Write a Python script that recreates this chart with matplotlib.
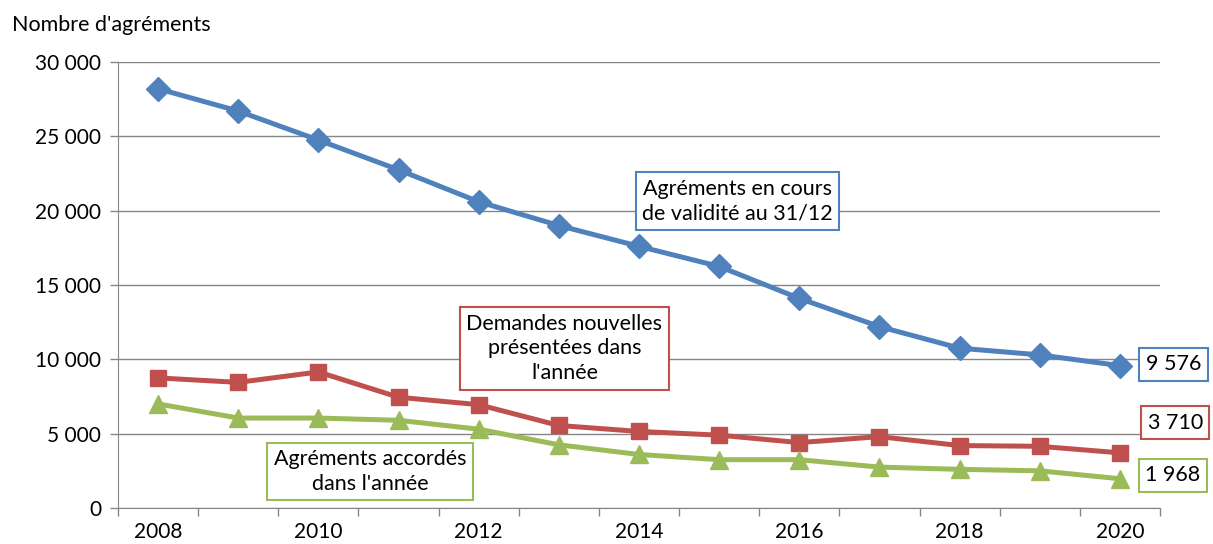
import matplotlib.pyplot as plt

plt.rcParams['font.family'] = ['Lato', 'DejaVu Sans']

# données
annees = [2008, 2009, 2010, 2011, 2012, 2013, 2014, 2015, 2016, 2017, 2018, 2019, 2020]
en_cours = [28200, 26700, 24750, 22750, 20600, 19000, 17600, 16250, 14100, 12200, 10750, 10300, 9576]
demandes = [8750, 8450, 9150, 7450, 6950, 5550, 5150, 4900, 4400, 4800, 4200, 4150, 3710]
accordes = [7000, 6050, 6050, 5900, 5300, 4250, 3600, 3250, 3250, 2750, 2600, 2500, 1968]
y_ticks = [0, 5000, 10000, 15000, 20000, 25000, 30000]

bleu = '#4F81BD'
rouge = '#C0504D'
vert = '#9BBB59'
gris = '#868686'


def fmt(v):
    return f"{v:,}".replace(",", " ")


fig = plt.figure(figsize=(12.13, 5.44), dpi=100)
ax = fig.add_axes([118 / 1213, 1 - 508 / 544, (1160 - 118) / 1213, (508 - 62) / 544])

x = list(range(len(annees)))
ax.plot(x, en_cours, color=bleu, lw=3.6, marker='D', ms=12, zorder=3)
ax.plot(x, demandes, color=rouge, lw=3.6, marker='s', ms=12, zorder=3)
ax.plot(x, accordes, color=vert, lw=3.6, marker='^', ms=13, zorder=3)

ax.set_xlim(-0.5, len(annees) - 0.5)
ax.set_ylim(0, 30000)
ax.set_yticks(y_ticks)
ax.set_yticklabels([fmt(v) for v in y_ticks], fontsize=15)
ax.yaxis.grid(True, color=gris, lw=1)
ax.set_axisbelow(True)

# axe des catégories : traits entre les années, une étiquette sur deux
ax.set_xticks([i - 0.5 for i in range(len(annees) + 1)])
ax.set_xticklabels([])
ax.set_xticks(x, minor=True)
ax.set_xticklabels([str(a) if a % 2 == 0 else '' for a in annees], minor=True, fontsize=15)
ax.tick_params(axis='x', which='major', length=6, color=gris, width=1)
ax.tick_params(axis='x', which='minor', length=0, pad=10)
ax.tick_params(axis='y', length=6, color=gris, width=1, pad=6)

for s in ['top', 'right']:
    ax.spines[s].set_visible(False)
for s in ['left', 'bottom']:
    ax.spines[s].set_color(gris)

fig.text(12 / 1213, 1 - 25 / 544, "Nombre d'agréments", fontsize=15.5, va='center')

# étiquettes encadrées
def boite(xx, yy, txt, couleur, taille=15.5):
    ax.text(xx, yy, txt, ha='center', va='center', fontsize=taille, linespacing=1.3,
            bbox=dict(boxstyle='square,pad=0.3', fc='white', ec=couleur, lw=1.5),
            zorder=5, clip_on=False)

boite(7.23, 20650, "Agréments en cours\nde validité au 31/12", bleu)
boite(5.07, 10730, "Demandes nouvelles\nprésentées dans\nl'année", rouge)
boite(2.645, 2450, "Agréments accordés\ndans l'année", vert)

boite(12.67, 9680, fmt(en_cours[-1]), bleu)
boite(12.69, 5750, fmt(demandes[-1]), rouge)
boite(12.66, 2200, fmt(accordes[-1]), vert)

fig.savefig('out.png', dpi=100)
